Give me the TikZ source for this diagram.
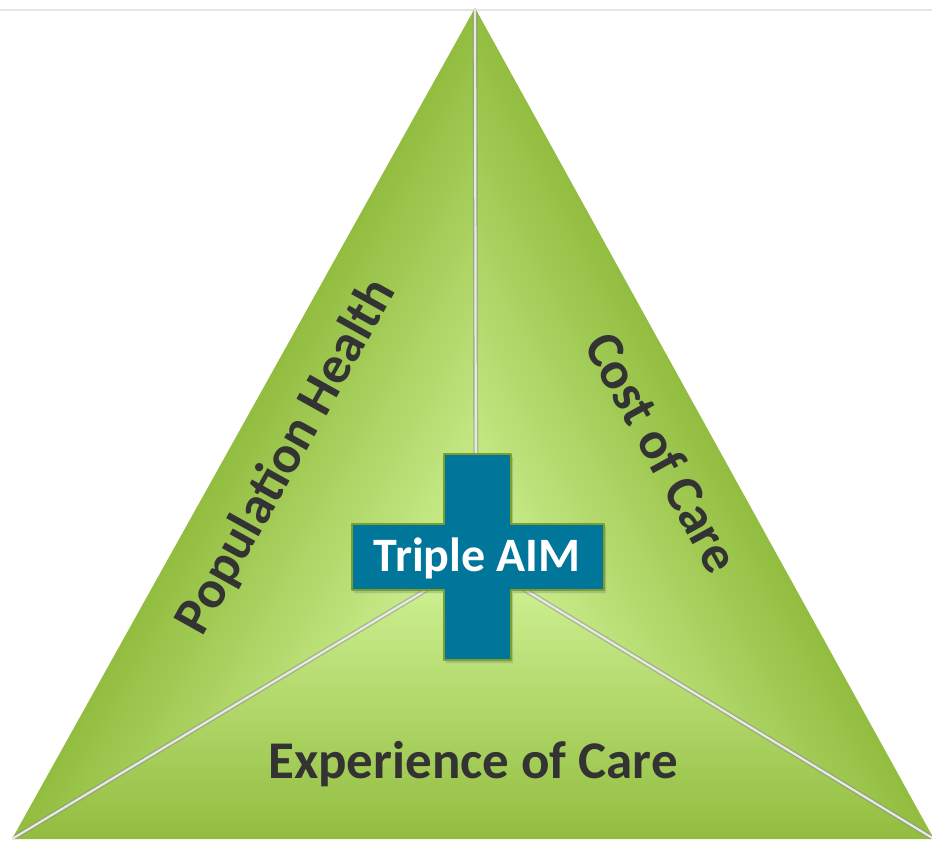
\documentclass[tikz,border=0pt]{standalone}
\usepackage{fontspec}
\setmainfont{Carlito}
\usetikzlibrary{shadows}
\definecolor{glowin}{HTML}{D4F59A}
\definecolor{glowmid}{HTML}{AAD45E}
\definecolor{glowout}{HTML}{8DB939}
\definecolor{crossblue}{HTML}{00769A}
\definecolor{crossrim}{HTML}{7E9E2C}
\definecolor{inktext}{HTML}{333333}
\tikzset{
  ridge/.style={line width=5pt,line cap=butt,black!45,opacity=0.5},
  ridgecore/.style={line width=2.2pt,line cap=butt,white!82!gray},
  sidelabel/.style={font=\fontsize{53}{53}\selectfont\bfseries,text=inktext},
}
\begin{document}
\begin{tikzpicture}[x=1pt,y=-1pt,line join=round,line cap=round]
				\useasboundingbox (0,0) rectangle (932,842);
				\def\h{282}
				\path (475,8) coordinate (A)
				(12,839) coordinate (B)
				(934,839) coordinate (C)
				(476,560) coordinate (O);
				\draw[gray!20,line width=1.6pt] (0,10)--(932,10);
				% the three faces, dark at the rim, light towards O
				\foreach\p/\q/\ang/\mx/\my in {A/B/-119.15/243.5/423.5,B/C/0/473/839,C/A/118.8/704.5/423.5}
				{\begin{scope}
					\clip (\p)--(\q)--(O)--cycle;
					\begin{scope}[transform canvas={shift={(\mx,\my)},rotate=\ang}]
						\shade[top color=glowin,middle color=glowmid,bottom color=glowout]
						(-700,20) rectangle (700,-\h);
					\end{scope}
				\end{scope}}
				\begin{scope}
					\clip (A)--(B)--(C)--cycle;
					\foreach\x in {A,B,C}
					{\draw[ridge] (\x)--(O);
					\draw[ridgecore] (\x)--(O);}
				\end{scope}
				\node[sidelabel,rotate=60.85] (pop) at (287,457) {Population Health};
				\node[sidelabel,rotate=-61.2] (cost) at (663,452) {Cost of Care};
				\node[sidelabel] (exp) at (473,764) {Experience of Care};
				\fill[crossblue,draw=crossrim,line width=1.4pt,
				drop shadow={opacity=0.35,shadow xshift=2pt,shadow yshift=-3pt}]
				(444,454)--(511,454)--(511,524)--(604,524)--(604,590)--(511,590)
				--(511,660)--(444,660)--(444,590)--(352,590)--(352,524)--(444,524)--cycle;
				\node[font=\fontsize{48}{48}\selectfont\bfseries,text=white] (aim) at (477,558) {Triple AIM};
			\end{tikzpicture}
\end{document}
